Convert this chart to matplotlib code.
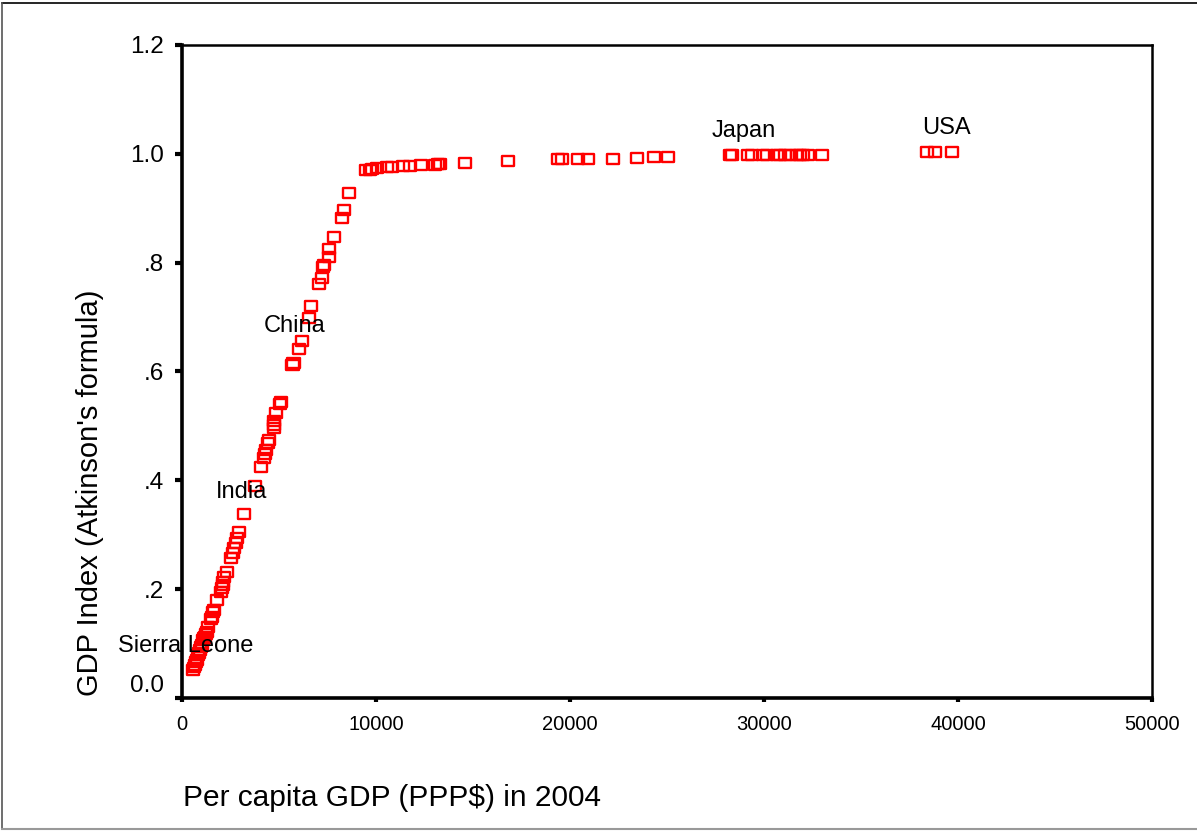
import matplotlib
matplotlib.use("Agg")
import matplotlib.pyplot as plt
import matplotlib.transforms as mtransforms
from matplotlib.path import Path
from matplotlib.lines import Line2D

plt.rcParams['font.family'] = ['Liberation Sans', 'DejaVu Sans']

# Per capita GDP (PPP$, 2004) and GDP index (Atkinson's formula)
gdp_pc = [570, 620, 670, 720, 770, 820, 870, 930, 980, 1030, 1080, 1130, 1190,
          1240, 1290, 1340, 1500, 1550, 1600, 1650, 1800, 2000, 2060, 2110, 2110,
          2160, 2320, 2530, 2630, 2680, 2780, 2840, 2940, 3200, 3760, 4070, 4230,
          4280, 4330, 4430, 4480, 4740, 4740, 4740, 4850, 5060, 5100, 5700, 5740,
          6030, 6190, 6550, 6650, 7060, 7220, 7270, 7320, 7580, 7580, 7840, 8250,
          8350, 8610,
          9485, 9690, 9800, 10050, 10570, 10825, 11390, 11750, 12320, 13040, 13200,
          13300, 14590, 16800, 19380, 19590, 20410, 20930, 22220, 23450, 24330,
          25050, 28250, 28350, 29175, 29380, 29950, 30150, 30670, 30820, 31080,
          31340, 31700, 31860, 32010, 32270, 32990, 38400, 38810, 39690]
gdp_index = [0.051, 0.056, 0.061, 0.066, 0.070, 0.079, 0.083, 0.088, 0.093, 0.097,
             0.107, 0.110, 0.112, 0.117, 0.121, 0.131, 0.145, 0.149, 0.158, 0.162,
             0.180, 0.195, 0.202, 0.208, 0.213, 0.222, 0.232, 0.257, 0.267, 0.276,
             0.285, 0.294, 0.305, 0.338, 0.390, 0.425, 0.441, 0.449, 0.456, 0.469,
             0.474, 0.496, 0.502, 0.509, 0.524, 0.540, 0.544, 0.612, 0.616, 0.642,
             0.656, 0.699, 0.721, 0.761, 0.772, 0.792, 0.796, 0.811, 0.825, 0.847,
             0.882, 0.897, 0.928,
             0.970, 0.971, 0.972, 0.974, 0.975, 0.975, 0.977, 0.978, 0.979, 0.980,
             0.981, 0.982, 0.983, 0.987, 0.990, 0.990, 0.991, 0.991, 0.991, 0.993,
             0.994, 0.994, 0.997, 0.997, 0.997, 0.997, 0.997, 0.997, 0.998, 0.998,
             0.998, 0.998, 0.998, 0.998, 0.998, 0.998, 0.998, 1.003, 1.003, 1.003]

# case labels
label_names = ["Sierra Leone", "India", "China", "Japan", "USA"]
label_x = [206, 3090, 5820, 28970, 39380]
label_y = [0.096, 0.379, 0.684, 1.042, 1.048]

xticks = [0, 10000, 20000, 30000, 40000, 50000]
yticks = [0.0, 0.2, 0.4, 0.6, 0.8, 1.0, 1.2]
ytick_labels = ["0.0", ".2", ".4", ".6", ".8", "1.0", "1.2"]

fig = plt.figure(figsize=(11.97, 8.32), dpi=100)
ax = fig.add_axes([182 / 1197, 1 - 698 / 832, 970 / 1197, 653 / 832])

# wide hollow box marker
box = Path([(-1.25, -1), (1.25, -1), (1.25, 1), (-1.25, 1), (-1.25, -1)],
           [Path.MOVETO, Path.LINETO, Path.LINETO, Path.LINETO, Path.CLOSEPOLY])
ax.scatter(gdp_pc, gdp_index, marker=box, s=80, facecolors='none',
           edgecolors='#ff0000', linewidths=1.7, zorder=3)

for name, x, y in zip(label_names, label_x, label_y):
    ax.text(x, y, name, ha='center', va='center', fontsize=17, color='black', zorder=4)

ax.set_xlim(0, 50000)
ax.set_ylim(0, 1.2)
ax.set_xticks(xticks)
ax.set_xticklabels([str(t) for t in xticks], fontsize=14.5)
ax.set_yticks(yticks)
ax.set_yticklabels(ytick_labels, fontsize=17.5)
ax.tick_params(axis='y', direction='out', length=5, width=3, pad=8)
ax.tick_params(axis='x', direction='out', length=3, width=3, pad=9)

# the 0.0 label sits a little above its tick
lab0 = ax.get_yticklabels()[0]
lab0.set_transform(lab0.get_transform() + mtransforms.ScaledTranslation(0, 14 / 100, fig.dpi_scale_trans))

ax.spines['left'].set_linewidth(2.6)
ax.spines['bottom'].set_linewidth(2.6)
ax.spines['top'].set_linewidth(1.8)
ax.spines['right'].set_linewidth(1.8)

fig.text(183 / 1197, 1 - 798 / 832, "Per capita GDP (PPP$) in 2004",
         ha='left', va='center', fontsize=21.5)
fig.text(90 / 1197, 1 - 493 / 832, "GDP Index (Atkinson's formula)",
         ha='center', va='center', rotation=90, fontsize=21)

# outer frame
fx = [2 / 1197, 2 / 1197]
fig.add_artist(Line2D([2 / 1197, 1.0], [1 - 3 / 832, 1 - 3 / 832], color='black', lw=1.2))
fig.add_artist(Line2D(fx, [1 - 3 / 832, 1 - 829 / 832], color='#555555', lw=1.2))
fig.add_artist(Line2D([2 / 1197, 1.0], [1 - 829 / 832, 1 - 829 / 832], color='#999999', lw=1.5))

fig.savefig("out.png", dpi=100)
